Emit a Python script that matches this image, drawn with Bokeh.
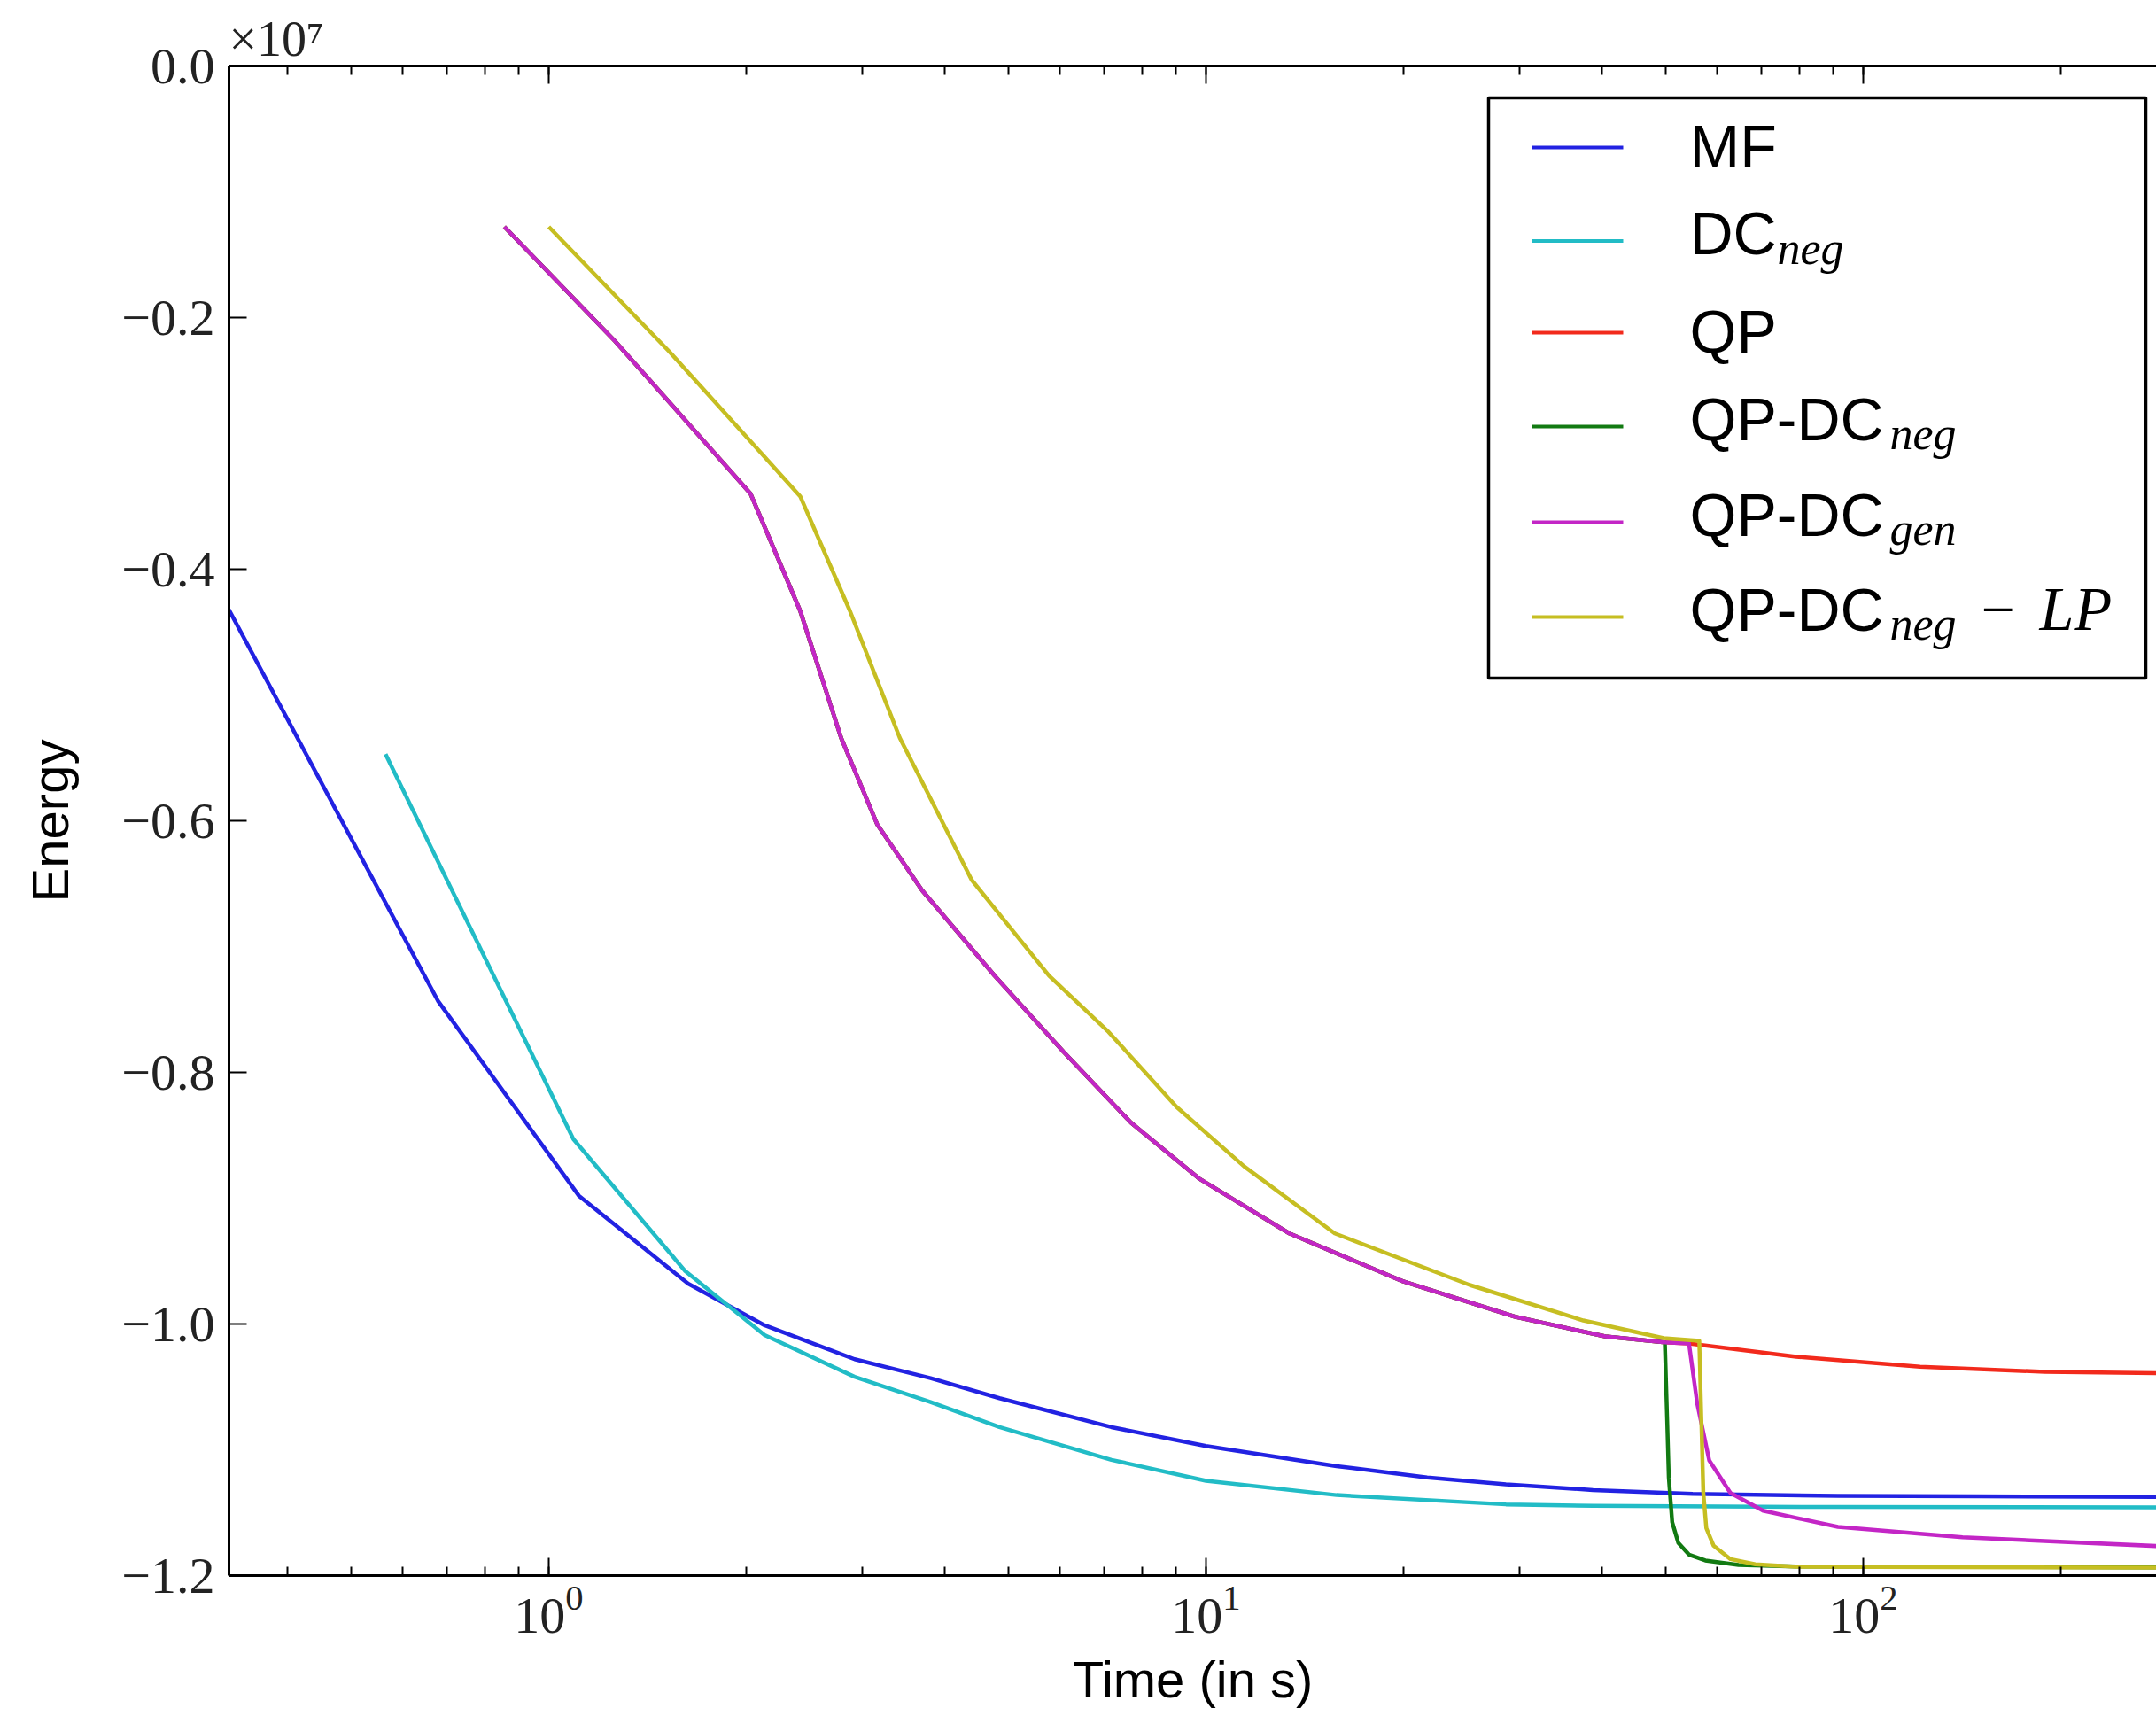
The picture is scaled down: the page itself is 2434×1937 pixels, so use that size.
from bokeh.plotting import figure
from bokeh.models import (Range1d, LogAxis, FixedTicker, CustomJSTickFormatter,
                          Label, BoxAnnotation, Title)
from bokeh.embed import file_html
from bokeh.resources import INLINE

# ---------------- data (energy in units of 1e7) ----------------
mf_t = [0.326, 0.678, 1.111, 1.63, 2.13, 2.92, 3.81, 4.85, 7.18, 10.0, 15.8, 21.7,
        28.6, 38.8, 55.0, 91.5, 150.0, 279.0]
mf_e = [-0.432, -0.743, -0.898, -0.968, -1.001, -1.028, -1.043, -1.059, -1.082, -1.097,
        -1.113, -1.122, -1.1275, -1.132, -1.135, -1.1366, -1.137, -1.1375]

dc_t = [0.5645, 1.09, 1.61, 2.13, 2.92, 3.81, 4.85, 7.18, 10.0, 15.8, 28.6, 38.8, 91.5, 279.0]
dc_e = [-0.547, -0.853, -0.9575, -1.0088, -1.042, -1.062, -1.082, -1.108, -1.1246, -1.136,
        -1.1434, -1.1446, -1.1455, -1.1458]

qp_t = [0.856, 1.262, 2.028, 2.413, 2.785, 3.16, 3.70, 4.77, 6.07, 7.69, 9.75, 13.39, 19.9,
        29.5, 40.5, 49.9, 54.3, 79.1, 122.0, 189.0, 279.0]
qp_e = [-0.1278, -0.2188, -0.340, -0.4331, -0.534, -0.6028, -0.6554, -0.7232, -0.7836, -0.840,
        -0.8842, -0.928, -0.9659, -0.9942, -1.0099, -1.0146, -1.0155, -1.026, -1.034, -1.038, -1.039]

qpdcneg_t = [0.856, 1.262, 2.028, 2.413, 2.785, 3.16, 3.70, 4.77, 6.07, 7.69, 9.75, 13.39, 19.9,
             29.5, 40.5, 49.9, 50.3, 50.6, 51.2, 52.3, 54.3, 57.5, 64.6, 79.1, 279.0]
qpdcneg_e = [-0.1278, -0.2188, -0.340, -0.4331, -0.534, -0.6028, -0.6554, -0.7232, -0.7836, -0.840,
             -0.8842, -0.928, -0.9659, -0.9942, -1.0099, -1.0146, -1.0754, -1.1223, -1.1575, -1.1739,
             -1.1833, -1.188, -1.1915, -1.1927, -1.1935]

qpdcgen_t = [0.856, 1.262, 2.028, 2.413, 2.785, 3.16, 3.70, 4.77, 6.07, 7.69, 9.75, 13.39, 19.9,
             29.5, 40.5, 49.9, 54.3, 55.9, 58.3, 62.8, 70.4, 91.5, 141.6, 279.0]
qpdcgen_e = [-0.1278, -0.2188, -0.340, -0.4331, -0.534, -0.6028, -0.6554, -0.7232, -0.7836, -0.840,
             -0.8842, -0.928, -0.9659, -0.9942, -1.0099, -1.0146, -1.0155, -1.0634, -1.1085, -1.1343,
             -1.1484, -1.1613, -1.1695, -1.1765]

lp_t = [1.0, 1.525, 2.413, 2.872, 3.42, 4.40, 5.77, 7.11, 9.02, 11.43, 15.7, 25.2, 37.5, 49.7,
        56.3, 56.7, 57.1, 57.7, 59.2, 62.8, 68.5, 79.1, 279.0]
lp_e = [-0.1278, -0.2269, -0.342, -0.4331, -0.534, -0.647, -0.7232, -0.7679, -0.8275, -0.8747,
        -0.928, -0.969, -0.9972, -1.0113, -1.0134, -1.0754, -1.134, -1.1622, -1.1763, -1.1869,
        -1.191, -1.193, -1.1937]

y_ticks = [-1.2, -1.0, -0.8, -0.6, -0.4, -0.2, 0.0]

C_MF = "#2222e2"
C_DC = "#22bcc6"
C_QP = "#f22a1c"
C_QPN = "#127a12"
C_QPG = "#c326c6"
C_LP = "#c6be22"

SERIF = "Liberation Serif"
SANS = "Liberation Sans"

# ---------------- figure ----------------
FL, FB = 258, 1778   # frame left / bottom in page px

p = figure(width=2434, height=1937, x_axis_type="log",
           x_range=Range1d(0.3262, 279.3), y_range=Range1d(-1.2, 0.0),
           output_backend="svg", toolbar_location=None,
           min_border_left=FL, min_border_right=0, min_border_top=74,
           min_border_bottom=1937 - FB)
p.outline_line_color = None
p.background_fill_color = "white"
p.border_fill_color = "white"
p.xgrid.visible = False
p.ygrid.visible = False

# offset text shown above the frame
p.title = Title(text="×10⁷", align="left", text_font=SERIF, text_font_size="56px",
                text_font_style="normal", text_color="#222222", standoff=0, offset=0)

LW = 4.5
p.line(mf_t, mf_e, line_color=C_MF, line_width=LW, line_join="round")
p.line(dc_t, dc_e, line_color=C_DC, line_width=LW, line_join="round")
p.line(qp_t, qp_e, line_color=C_QP, line_width=LW, line_join="round")
p.line(qpdcneg_t, qpdcneg_e, line_color=C_QPN, line_width=LW, line_join="round")
p.line(qpdcgen_t, qpdcgen_e, line_color=C_QPG, line_width=LW, line_join="round")
p.line(lp_t, lp_e, line_color=C_LP, line_width=LW, line_join="round")

# axes
xa = p.xaxis[0]
ya = p.yaxis[0]
top = LogAxis(ticker=xa.ticker)
p.add_layout(top, "above")

for ax in (xa, ya, top):
    ax.axis_line_width = 3
    ax.axis_line_color = "black"
    ax.major_tick_in = 20
    ax.major_tick_out = 0
    ax.minor_tick_in = 10
    ax.minor_tick_out = 0
    ax.major_tick_line_width = 2
    ax.minor_tick_line_width = 2
    ax.major_tick_line_color = "black"
    ax.minor_tick_line_color = "black"
    ax.major_label_text_font = SERIF
    ax.major_label_text_font_size = "58px"
    ax.major_label_text_color = "#222222"
    ax.axis_label_text_font = SANS
    ax.axis_label_text_font_style = "normal"
    ax.axis_label_text_color = "black"
    ax.axis_label_text_font_size = "58px"

top.major_label_text_font_size = "1px"
top.major_label_text_alpha = 0.0
top.major_label_standoff = 0

ya.ticker = FixedTicker(ticks=y_ticks)
ya.minor_tick_line_color = None
ya.formatter = CustomJSTickFormatter(
    code="const s = Math.abs(tick).toFixed(1); return (tick < -1e-9 ? '\u2212' : '') + s;")
ya.major_label_standoff = 16
ya.axis_label = "Energy"
ya.axis_label_standoff = 45

xa.major_label_standoff = 12
xa.axis_label = "Time (in s)"
xa.axis_label_standoff = 17


def sx(px):
    return px - FL


def sy(py):
    return FB - py


# ---------------- legend ----------------
p.add_layout(BoxAnnotation(left=sx(1680), right=sx(2422), top=sy(110), bottom=sy(765),
                           left_units="screen", right_units="screen",
                           top_units="screen", bottom_units="screen",
                           fill_color="white", fill_alpha=1.0,
                           line_color="black", line_alpha=1.0, line_width=3.5))

legend_rows = [
    ("MF", None, C_MF, 166),
    ("DC", "neg", C_DC, 271.5),
    ("QP", None, C_QP, 375),
    ("QP-DC", "neg", C_QPN, 481),
    ("QP-DC", "gen", C_QPG, 589),
    ("QP-DC", "neg", C_LP, 696),
]
for i, (main, sub, col, ly) in enumerate(legend_rows):
    p.add_layout(BoxAnnotation(left=sx(1729), right=sx(1832), top=sy(ly - 2), bottom=sy(ly + 2),
                               left_units="screen", right_units="screen",
                               top_units="screen", bottom_units="screen",
                               fill_color=col, fill_alpha=1.0, line_color=None))
    cy = ly - (2 if sub is None else 9)
    p.add_layout(Label(x=sx(1907), y=sy(cy), x_units="screen", y_units="screen", text=main,
                       text_font=SANS, text_font_size="68px", text_color="black",
                       text_baseline="middle"))
    if sub is not None:
        subx = 2006 if main == "DC" else 2133
        p.add_layout(Label(x=sx(subx), y=sy(ly + 8), x_units="screen", y_units="screen", text=sub,
                           text_font=SERIF, text_font_style="italic", text_font_size="52px",
                           text_color="black", text_baseline="middle"))
    if i == 5:
        p.add_layout(Label(x=sx(2236), y=sy(ly - 8), x_units="screen", y_units="screen", text="−",
                           text_font=SERIF, text_font_size="68px", text_color="black",
                           text_baseline="middle"))
        p.add_layout(Label(x=sx(2302), y=sy(ly - 9), x_units="screen", y_units="screen", text="LP",
                           text_font=SERIF, text_font_style="italic", text_font_size="70px",
                           text_color="black", text_baseline="middle"))

open("out.html", "w").write(file_html(p, INLINE))
